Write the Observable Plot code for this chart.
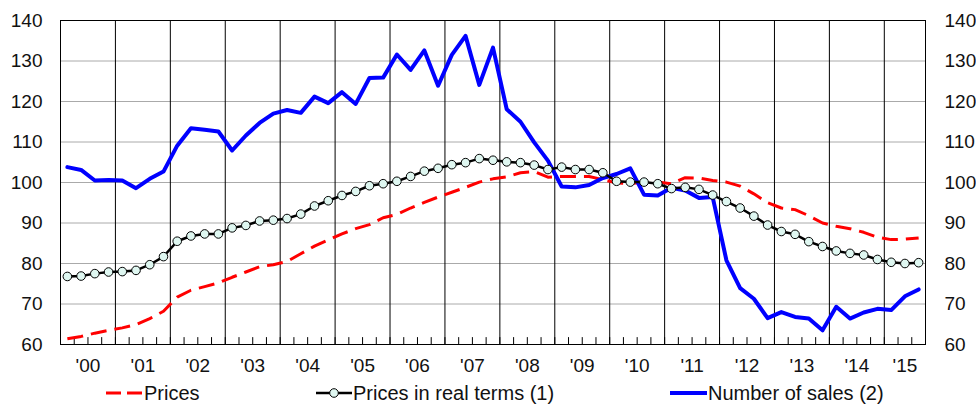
<!DOCTYPE html>
<html><head><meta charset="utf-8">
<script src="https://cdn.jsdelivr.net/npm/d3@7"></script>
<script src="https://cdn.jsdelivr.net/npm/@observablehq/plot@0.6"></script>
<style>
body{margin:0;background:#fff;font-family:"Liberation Sans",Arial,Helvetica,sans-serif;}
#legend text{font-size:20px;fill:#111;}
</style>
</head><body>
<div id="chart"></div>
<svg id="legend" width="976" height="30"></svg>
<script>
const years = [2000,2001,2002,2003,2004,2005,2006,2007,2008,2009,2010,2011,2012,2013,2014,2015];
const yearLabels = ["'00","'01","'02","'03","'04","'05","'06","'07","'08","'09","'10","'11","'12","'13","'14","'15"];
const quarterNames = ["Q1","Q2","Q3","Q4"];
const yTicks = [60,70,80,90,100,110,120,130,140];
const seriesNames = ["Prices","Prices in real terms (1)","Number of sales (2)"];

const prices = [61.4,62.0,62.8,63.5,64.1,64.9,66.4,68.2,71.7,73.4,
  74.3,75.2,76.6,77.9,79.2,79.7,80.5,82.4,84.3,85.8,
  87.3,88.6,89.6,91.3,92.1,93.7,95.1,96.4,97.6,98.8,
  100.1,100.9,101.4,102.4,102.7,101.3,101.5,101.5,101.5,100.7,
  99.9,99.7,100.1,100.1,99.7,101.2,101.1,100.5,100.1,99.1,
  97.2,95.0,93.7,93.3,91.8,90.0,89.2,88.6,87.7,86.5,
  85.9,86.0,86.3];
const realPrices = [76.8,76.9,77.5,77.9,78.0,78.3,79.7,81.7,85.5,86.8,
  87.3,87.3,88.8,89.4,90.5,90.7,91.1,92.2,94.2,95.5,
  96.8,97.8,99.2,99.7,100.3,101.5,102.8,103.5,104.4,104.9,
  105.9,105.5,105.1,104.9,104.3,103.2,103.8,103.2,103.2,102.4,
  100.3,100.1,100.1,99.7,98.5,98.8,98.3,96.9,95.3,93.7,
  91.7,89.5,87.9,87.2,85.4,84.2,83.1,82.5,82.1,81.0,
  80.3,80.0,80.2];
const sales = [103.8,103.1,100.5,100.6,100.5,98.6,100.9,102.7,109.1,113.4,
  113.0,112.6,107.9,111.6,114.7,117.0,117.9,117.2,121.2,119.6,
  122.3,119.4,125.8,125.9,131.6,127.8,132.6,123.9,131.5,136.2,
  124.1,133.3,118.1,115.0,109.9,105.4,99.0,98.8,99.4,101.1,
  102.1,103.5,97.0,96.8,98.7,98.0,96.2,96.4,80.8,73.9,
  71.3,66.5,68.0,66.8,66.4,63.5,69.3,66.4,67.9,68.8,
  68.5,71.9,73.6];

// quarterly periods
const periods = [];
years.forEach(y => quarterNames.forEach((q, k) => periods.push({year: y, q: k})));
const n = prices.length;
const data = periods.slice(0, n).map((p, i) => ({
  t: p.year + (p.q + 0.5) / 4,
  prices: prices[i], real: realPrices[i], sales: sales[i]
}));
const xStart = years[0];
const xEnd = years[0] + n / 4;
const quarterBounds = d3.range(0, n + 1).map(i => xStart + i / 4);
const labelPos = years.map(y => (Math.max(y, xStart) + Math.min(y + 1, xEnd)) / 2);

const chart = Plot.plot({
  width: 976, height: 375,
  marginTop: 20, marginBottom: 31, marginLeft: 60, marginRight: 51,
  x: {domain: [xStart, xEnd]},
  y: {domain: [yTicks[0], yTicks[yTicks.length - 1]]},
  style: {fontFamily: '"Liberation Sans",Arial,Helvetica,sans-serif', fontSize: "19px", color: "#111", background: "#fff"},
  marks: [
    Plot.ruleY(yTicks.slice(1, -1), {stroke: "#aaa", strokeWidth: 1}),
    Plot.ruleX(years.slice(1), {stroke: "#000", strokeWidth: 1}),
    Plot.ruleX(quarterBounds, {x: d => d, y1: yTicks[0], y2: yTicks[0] + 1.7, stroke: "#000", strokeWidth: 1}),
    Plot.frame({stroke: "#000", strokeWidth: 1}),
    Plot.axisY({anchor: "left", ticks: yTicks, tickSize: 0, tickPadding: 18, fontSize: 19, label: null}),
    Plot.axisY({anchor: "right", ticks: yTicks, tickSize: 0, tickPadding: 19, fontSize: 19, label: null}),
    Plot.axisX({ticks: labelPos, tickSize: 0, tickPadding: 14, fontSize: 19, label: null,
      tickFormat: d => yearLabels[years.indexOf(Math.floor(d))]}),
    Plot.line(data, {x: "t", y: "prices", stroke: "#ff0000", strokeWidth: 3, strokeDasharray: "16,8", strokeLinecap: "butt"}),
    Plot.line(data, {x: "t", y: "sales", stroke: "#0000ff", strokeWidth: 4}),
    Plot.line(data, {x: "t", y: "real", stroke: "#000", strokeWidth: 2.5}),
    Plot.dot(data, {x: "t", y: "real", r: 4.3, fill: "#dff7f1", stroke: "#000", strokeWidth: 1})
  ]
});
document.getElementById("chart").appendChild(chart);

// legend
const lg = d3.select("#legend");
const cy = 18;
lg.append("line").attr("x1", 106).attr("x2", 142).attr("y1", cy).attr("y2", cy)
  .attr("stroke", "#ff0000").attr("stroke-width", 3).attr("stroke-dasharray", "15,6");
lg.append("text").attr("x", 144).attr("y", cy).attr("dy", "0.35em").text(seriesNames[0]);
lg.append("line").attr("x1", 316).attr("x2", 352).attr("y1", cy).attr("y2", cy)
  .attr("stroke", "#000").attr("stroke-width", 2.5);
lg.append("circle").attr("cx", 334).attr("cy", cy).attr("r", 4.3)
  .attr("fill", "#dff7f1").attr("stroke", "#000").attr("stroke-width", 1);
lg.append("text").attr("x", 353).attr("y", cy).attr("dy", "0.35em").text(seriesNames[1]);
lg.append("line").attr("x1", 670).attr("x2", 707).attr("y1", cy).attr("y2", cy)
  .attr("stroke", "#0000ff").attr("stroke-width", 4);
lg.append("text").attr("x", 708).attr("y", cy).attr("dy", "0.35em").text(seriesNames[2]);
</script>
</body></html>
